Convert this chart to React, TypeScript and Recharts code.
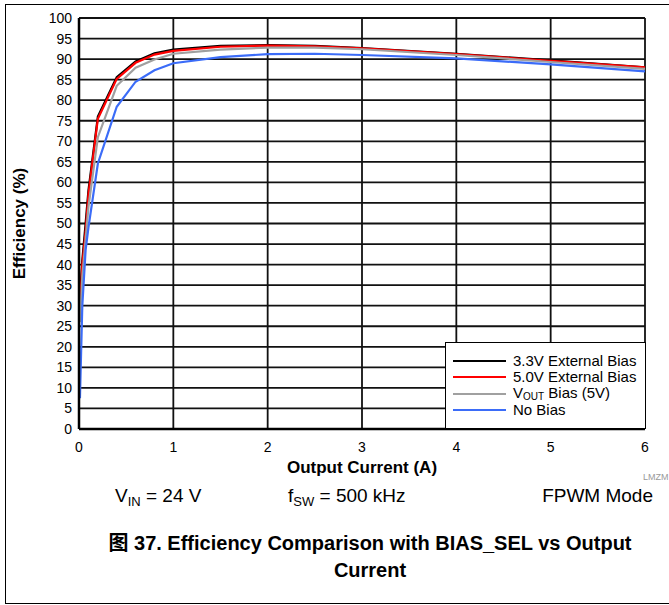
import { LineChart, Line, XAxis, YAxis, CartesianGrid, Legend } from 'recharts';

// output current (A), shared by all four curves
const currentA = [0.01, 0.035, 0.07, 0.1, 0.2, 0.4, 0.6, 0.8, 1, 1.5, 2, 2.5, 3, 4, 5, 6];

// efficiency (%)
const ext33Bias = [32, 41, 50, 58, 76, 85.6, 89.4, 91.4, 92.3, 93.2, 93.4, 93.2, 92.7, 91.3, 89.7, 88.0];
const ext50Bias = [30, 40, 48, 57, 75.5, 85.2, 89.1, 91.1, 92.0, 93.0, 93.3, 93.1, 92.6, 91.2, 89.6, 88.0];
const voutBias = [26, 37, 46, 54, 71, 83.5, 87.9, 89.9, 91.3, 92.3, 92.8, 92.8, 92.4, 91.0, 89.3, 87.6];
const noBias = [7.5, 30, 43.5, 49, 64.6, 78.4, 84.5, 87.3, 89.0, 90.5, 91.2, 91.3, 91.0, 90.2, 88.7, 87.0];

const xTicks = [0, 1, 2, 3, 4, 5, 6];
const yTicks = [0, 5, 10, 15, 20, 25, 30, 35, 40, 45, 50, 55, 60, 65, 70, 75, 80, 85, 90, 95, 100];

const series = [
  { key: 'ext33', name: '3.3V External Bias', color: '#000000' },
  { key: 'ext50', name: '5.0V External Bias', color: '#ff0000' },
  { key: 'vout', name: 'VOUT Bias (5V)', color: '#a0a0a0' },
  { key: 'none', name: 'No Bias', color: '#3b6cf8' },
];

const data = currentA.map((x, i) => ({
  x,
  ext33: ext33Bias[i],
  ext50: ext50Bias[i],
  vout: voutBias[i],
  none: noBias[i],
}));

const FONT = '"Liberation Sans", Arial, Helvetica, sans-serif';

function LegendName({ name }: { name: string }) {
  if (name.startsWith('VOUT')) {
    return (
      <span>
        V<span style={{ fontSize: 10, position: 'relative', top: 2 }}>OUT</span>
        {name.slice(4)}
      </span>
    );
  }
  return <span>{name}</span>;
}

function BiasLegend() {
  return (
    <div
      style={{
        boxSizing: 'border-box',
        width: 201,
        height: 87,
        border: '1.5px solid #000',
        background: '#fff',
        padding: '10px 0 0 7px',
        fontFamily: FONT,
        fontSize: 15,
        lineHeight: '16px',
        color: '#000',
      }}
    >
      {series.map((s) => (
        <div key={s.key} style={{ display: 'flex', alignItems: 'center', height: 16.3 }}>
          <div style={{ width: 53, height: 2, background: s.color, marginRight: 7 }} />
          <LegendName name={s.name} />
        </div>
      ))}
    </div>
  );
}

export default function App() {
  return (
    <div
      style={{
        position: 'absolute',
        left: 0,
        top: 0,
        width: 669,
        height: 605,
        overflow: 'hidden',
        background: '#fff',
        fontFamily: FONT,
      }}
    >
      <div
        style={{
          position: 'absolute',
          left: 5,
          top: 4,
          width: 720,
          height: 598,
          borderTop: '1.5px solid #000',
          borderLeft: '1.5px solid #000',
          borderBottom: '1.5px solid #000',
        }}
      />
      <div style={{ position: 'absolute', left: 0, top: 0 }}>
        <LineChart
          width={669}
          height={480}
          data={data}
          margin={{ top: 18, right: 24, left: 10, bottom: 21 }}
        >
          <CartesianGrid stroke="#111" strokeWidth={1.8} />
          <XAxis
            dataKey="x"
            type="number"
            domain={[0, 6]}
            ticks={xTicks}
            tickLine={false}
            tickSize={6}
            tickMargin={7}
            height={30}
            axisLine={{ stroke: '#000', strokeWidth: 2.5 }}
            tick={{ fill: '#000', fontSize: 14, fontFamily: FONT }}
            label={{
              value: 'Output Current (A)',
              position: 'bottom',
              offset: 2,
              style: { fill: '#000', fontSize: 17, fontWeight: 'bold', fontFamily: FONT },
            }}
          />
          <XAxis
            xAxisId="top"
            orientation="top"
            type="number"
            domain={[0, 6]}
            ticks={xTicks}
            tick={false}
            tickLine={false}
            height={0}
            axisLine={{ stroke: '#000', strokeWidth: 2.5 }}
          />
          <YAxis
            type="number"
            domain={[0, 100]}
            ticks={yTicks}
            interval={0}
            tickLine={false}
            tickSize={6}
            tickMargin={1}
            width={69}
            axisLine={{ stroke: '#000', strokeWidth: 2.5 }}
            tick={{ fill: '#000', fontSize: 14, fontFamily: FONT }}
            label={{
              value: 'Efficiency (%)',
              angle: -90,
              position: 'insideLeft',
              offset: 9,
              style: { textAnchor: 'middle', fill: '#000', fontSize: 17, fontWeight: 'bold', fontFamily: FONT },
            }}
          />
          <YAxis
            yAxisId="right"
            orientation="right"
            type="number"
            domain={[0, 100]}
            ticks={yTicks}
            tick={false}
            tickLine={false}
            width={0}
            axisLine={{ stroke: '#000', strokeWidth: 2.5 }}
          />
          {series.map((s) => (
            <Line
              key={s.key}
              dataKey={s.key}
              name={s.name}
              type="linear"
              stroke={s.color}
              strokeWidth={2.2}
              dot={false}
              activeDot={false}
              isAnimationActive={false}
            />
          ))}
          <Legend
            layout="vertical"
            align="center"
            verticalAlign="middle"
            content={() => <BiasLegend />}
            wrapperStyle={{ left: 445, top: 342, width: 201, height: 87 }}
          />
        </LineChart>
      </div>
      <div style={{ position: 'absolute', left: 643, top: 472, fontSize: 9, color: '#999', whiteSpace: 'nowrap' }}>
        LMZM
      </div>
      <div style={{ position: 'absolute', left: 115, top: 485, fontSize: 19, whiteSpace: 'nowrap' }}>
        V<sub style={{ fontSize: 13, verticalAlign: -4 }}>IN</sub> = 24 V
      </div>
      <div style={{ position: 'absolute', left: 288, top: 485, fontSize: 19, whiteSpace: 'nowrap' }}>
        f<sub style={{ fontSize: 13, verticalAlign: -4 }}>SW</sub> = 500 kHz
      </div>
      <div style={{ position: 'absolute', right: 16, top: 485, fontSize: 19, whiteSpace: 'nowrap' }}>
        FPWM Mode
      </div>
      <div
        style={{
          position: 'absolute',
          left: 70,
          width: 600,
          top: 528,
          fontSize: 20,
          fontWeight: 'bold',
          textAlign: 'center',
          lineHeight: '27px',
        }}
      >
        <span style={{ fontFamily: '"Noto Sans CJK SC", sans-serif' }}>图</span> 37. Efficiency Comparison with BIAS_SEL vs Output
        <br />
        Current
      </div>
    </div>
  );
}
